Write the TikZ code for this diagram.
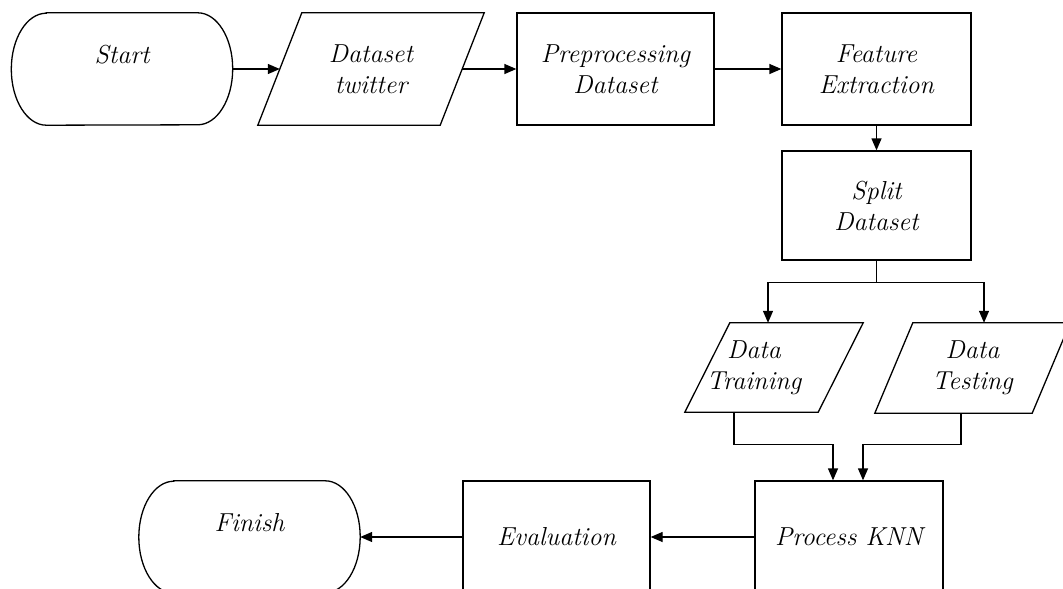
\documentclass[tikz,border=0pt]{standalone}
\usetikzlibrary{arrows.meta}
\begin{document}
\begin{tikzpicture}[x=1pt,y=-1pt,
  line/.style={line width=1.3pt},
  arr/.style={line,-{Triangle[length=12pt,width=10pt]}},
  txt/.style={font=\itshape\fontsize{26}{31}\selectfont,align=center,inner sep=0pt},
  box/.style={txt,draw,line},
  term/.style={txt,minimum width=221pt,minimum height=112pt,text height=18pt,text depth=29pt},
  io/.style={txt}]

\useasboundingbox (0,0) rectangle (1063,589);
\clip (0,0) rectangle (1063,589);

\node[term] (start) at (122,69) {Start};
\node[io,minimum width=182pt,minimum height=112pt] (data) at (371,69) {Dataset\\twitter};
\node[box,minimum width=197pt,minimum height=112pt] (prep) at (615.5,69) {Preprocessing\\Dataset};
\node[box,minimum width=189pt,minimum height=112pt] (feat) at (876.5,69) {Feature\\Extraction};
\node[box,minimum width=189pt,minimum height=109pt] (split) at (876.5,205.5) {Split\\Dataset};
\node[io,minimum width=133pt,minimum height=89pt] (train) at (774,367.5) {\hspace*{-40pt}Data\\\hspace*{-40pt}Training};
\node[io,minimum width=157pt,minimum height=90pt] (test) at (972.5,368) {Data\\Testing};
\node[box,minimum width=188pt,minimum height=112pt] (proc) at (849,537) {Process KNN};
\node[box,minimum width=187pt,minimum height=112pt] (eval) at (556.5,537) {Evaluation};
\node[term] (finish) at (249.5,537) {Finish};

\foreach \n in {start,finish}
  \draw[line] ([xshift=35pt]\n.north west) -- ([xshift=-35pt]\n.north east)
    arc[start angle=90,end angle=-90,x radius=35pt,y radius=56pt]
    -- ([xshift=35pt]\n.south west)
    arc[start angle=270,end angle=90,x radius=35pt,y radius=56pt] -- cycle;

\foreach \n/\s in {data/22,train/22.5,test/19}
  \draw[line] ([xshift=\s pt]\n.north west) -- ([xshift=\s pt]\n.north east)
    -- ([xshift=-\s pt]\n.south east) -- ([xshift=-\s pt]\n.south west) -- cycle;

\draw[arr] (start.east) -- (data.west);
\draw[arr] (data.east) -- (prep.west);
\draw[arr] (prep.east) -- (feat.west);
\draw[arr] (feat.south) -- (split.north);
\draw[arr] (split.south) -- ++(0,22) -| ([xshift=-6pt]train.north);
\draw[arr] (split.south) -- ++(0,22) -| ([xshift=11.5pt]test.north);
\draw[arr] ([xshift=-40pt]train.south) -- ++(0,32) -| ([xshift=-16pt]proc.north);
\draw[arr] ([xshift=-11.5pt]test.south) -- ++(0,31) -| ([xshift=14pt]proc.north);
\draw[arr] (proc.west) -- (eval.east);
\draw[arr] (eval.west) -- (finish.east);

\end{tikzpicture}
\end{document}
